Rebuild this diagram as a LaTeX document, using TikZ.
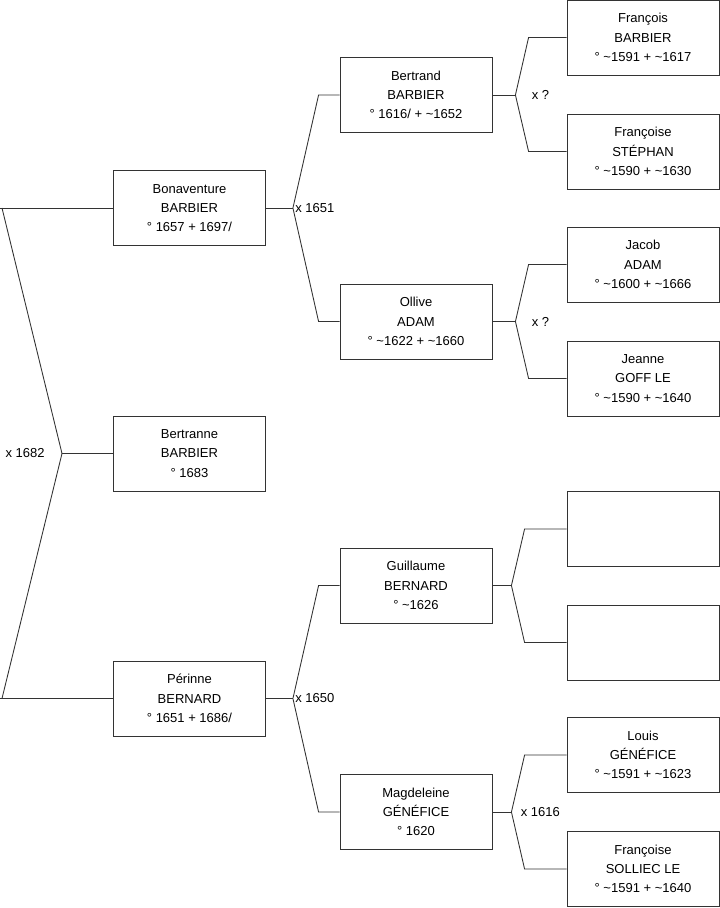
\documentclass[tikz,border=0pt]{standalone}
\usepackage{fontspec}
\setmainfont{Liberation Sans}
\usetikzlibrary{calc}
\newcommand{\circa}{\textasciitilde}

\begin{document}
\begin{tikzpicture}[
  x=0.02cm, y=-0.02cm,
  person/.style = {rectangle, minimum width=3.04cm, minimum height=1.5cm,
                   draw=black!80, line width=0.5pt, inner sep=0pt, align=center,
                   font=\fontsize{7.4}{11}\selectfont},
  link/.style   = {draw=black!80, line width=0.5pt},
  union/.style  = {inner sep=0pt, font=\fontsize{7.4}{11}\selectfont},
]
\useasboundingbox (0,0) rectangle (719,908);

% ── Génération 1 ─────────────────────────────────────────────
\node[person] (bona)      at (189.5,208)   {Bonaventure\\BARBIER\\° 1657 + 1697/};
\node[person] (bertranne) at (189.5,453.5) {Bertranne\\BARBIER\\° 1683};
\node[person] (perinne)   at (189.5,698.5) {Périnne\\BERNARD\\° 1651 + 1686/};

% ── Génération 2 ─────────────────────────────────────────────
\node[person] (bertrand)   at (416,95)    {Bertrand\\BARBIER\\° 1616/ + \circa1652};
\node[person] (ollive)     at (416,321.5) {Ollive\\ADAM\\° \circa1622 + \circa1660};
\node[person] (guillaume)  at (416,585.5) {Guillaume\\BERNARD\\° \circa1626};
\node[person] (magdeleine) at (416,812)   {Magdeleine\\GÉNÉFICE\\° 1620};

% ── Génération 3 ─────────────────────────────────────────────
\node[person] (francois)  at (643,37.5)  {François\\BARBIER\\° \circa1591 + \circa1617};
\node[person] (stephan)   at (643,151.5) {Françoise\\STÉPHAN\\° \circa1590 + \circa1630};
\node[person] (jacob)     at (643,264.5) {Jacob\\ADAM\\° \circa1600 + \circa1666};
\node[person] (jeanne)    at (643,378.5) {Jeanne\\GOFF LE\\° \circa1590 + \circa1640};
\node[person] (vide1)     at (643,529)   {};
\node[person] (vide2)     at (643,642.5) {};
\node[person] (louis)     at (643,755)   {Louis\\GÉNÉFICE\\° \circa1591 + \circa1623};
\node[person] (solliec)   at (643,869)   {Françoise\\SOLLIEC LE\\° \circa1591 + \circa1640};

% ── Points de jonction ───────────────────────────────────────
\coordinate (haut0) at (0,208);
\coordinate (bas0)  at (0,698.5);
\coordinate (m1682) at (62,453.5);
\coordinate (m1651) at ($(bona.east)+(27,0)$);
\coordinate (m1650) at ($(perinne.east)+(27,0)$);
\coordinate (mBB)   at ($(bertrand.east)+(23,0)$);
\coordinate (mOA)   at ($(ollive.east)+(23,0)$);
\coordinate (mGB)   at ($(guillaume.east)+(19,0)$);
\coordinate (mMG)   at ($(magdeleine.east)+(19,0)$);

% ── Liens ────────────────────────────────────────────────────
\draw[link] (haut0) -- (bona.west);
\draw[link] (bas0) -- (perinne.west);
\draw[link] ($(haut0)+(2,0)$) -- (m1682) -- ($(bas0)+(2,0)$);
\draw[link] (m1682) -- (bertranne.west);

\draw[link] (bona.east) -- (m1651);
\draw[link] (bertrand.west) -- ++(-21,0) -- (m1651)
            -- ($(ollive.west)+(-21,0)$) -- (ollive.west);
\draw[link] (perinne.east) -- (m1650);
\draw[link] (guillaume.west) -- ++(-21,0) -- (m1650)
            -- ($(magdeleine.west)+(-21,0)$) -- (magdeleine.west);

\draw[link] (bertrand.east) -- (mBB);
\draw[link] (francois.west) -- ++(-38,0) -- (mBB)
            -- ($(stephan.west)+(-38,0)$) -- (stephan.west);
\draw[link] (ollive.east) -- (mOA);
\draw[link] (jacob.west) -- ++(-38,0) -- (mOA)
            -- ($(jeanne.west)+(-38,0)$) -- (jeanne.west);
\draw[link] (guillaume.east) -- (mGB);
\draw[link] (vide1.west) -- ++(-42,0) -- (mGB)
            -- ($(vide2.west)+(-42,0)$) -- (vide2.west);
\draw[link] (magdeleine.east) -- (mMG);
\draw[link] (louis.west) -- ++(-42,0) -- (mMG)
            -- ($(solliec.west)+(-42,0)$) -- (solliec.west);

% ── Unions ───────────────────────────────────────────────────
\node[union, anchor=east] (u1682) at ($(m1682)+(-17,0)$) {x 1682};
\node[union, anchor=west] (u1651) at ($(m1651)+(2,0)$)   {x 1651};
\node[union, anchor=west] (u1650) at ($(m1650)+(2,0)$)   {x 1650};
\node[union, anchor=west] (uBB)   at ($(mBB)+(16,0)$)    {x ?};
\node[union, anchor=west] (uOA)   at ($(mOA)+(16,0)$)    {x ?};
\node[union, anchor=west] (u1616) at ($(mMG)+(9,0)$)     {x 1616};

\end{tikzpicture}
\end{document}
